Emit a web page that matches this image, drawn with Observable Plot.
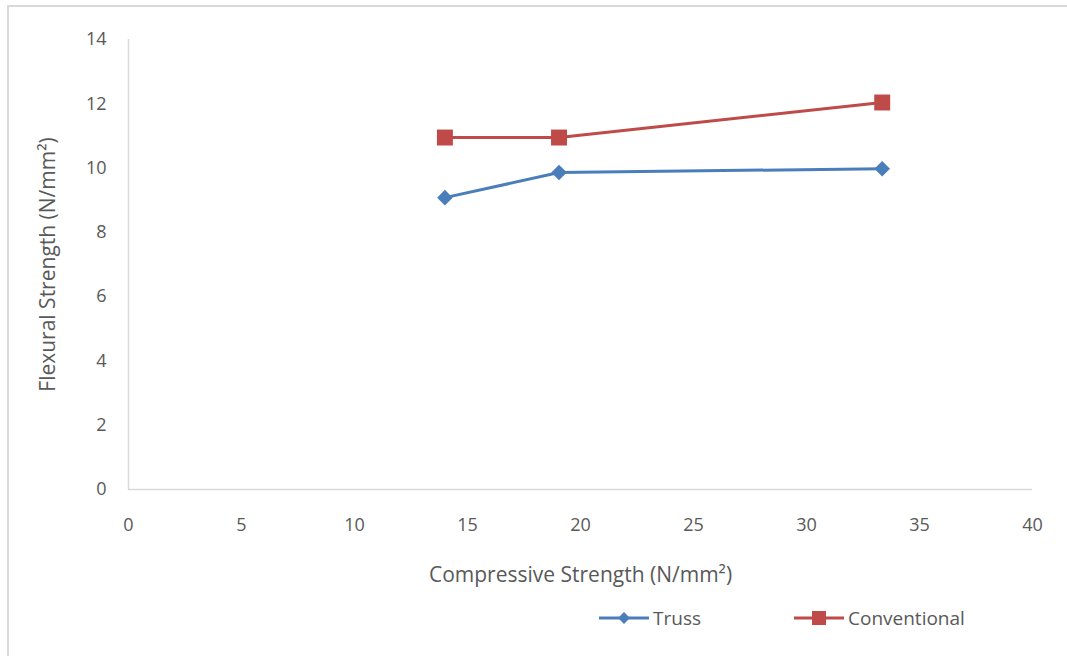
<!DOCTYPE html>
<html>
<head>
<meta charset="utf-8">
<script src="https://cdn.jsdelivr.net/npm/d3@7"></script>
<script src="https://cdn.jsdelivr.net/npm/@observablehq/plot@0.6"></script>
<style>
  html, body { margin: 0; padding: 0; background: #fff; }
  #wrap { position: relative; width: 1067px; height: 656px; overflow: hidden; }
  #frame { position: absolute; left: 7px; top: 5px; right: -5px; bottom: -5px; border-left: 2px solid #d9d9d9; border-top: 2px solid #d9d9d9; pointer-events: none; }
  #legend { position: absolute; top: 605px; left: 598px; font-family: "Open Sans", sans-serif; font-size: 19px; color: #595959; display: flex; align-items: center; }
  .item { display: flex; align-items: center; }
  .item svg { margin-right: 3px; }
</style>
</head>
<body>
<div id="wrap">
  <div id="chart"></div>
  <div id="frame"></div>
  <div id="legend"></div>
</div>
<script>
const compressive = [14.0, 19.05, 33.35];
const trussFlexural = [9.08, 9.86, 9.98];
const conventionalFlexural = [10.95, 10.95, 12.04];
const seriesNames = ["Truss", "Conventional"];
const seriesColors = ["#4a7ebb", "#be4b48"];
const xTicks = [0, 5, 10, 15, 20, 25, 30, 35, 40];
const yTicks = [0, 2, 4, 6, 8, 10, 12, 14];

const truss = compressive.map((x, i) => ({series: seriesNames[0], x, y: trussFlexural[i]}));
const conventional = compressive.map((x, i) => ({series: seriesNames[1], x, y: conventionalFlexural[i]}));

const font = "'Open Sans', sans-serif";
const chart = Plot.plot({
  width: 1067,
  height: 656,
  marginLeft: 128,
  marginRight: 35,
  marginTop: 39,
  marginBottom: 167,
  style: {fontFamily: font, fontSize: "18px", color: "#595959", background: "white", overflow: "visible"},
  x: {domain: [0, 40], ticks: xTicks},
  y: {domain: [0, 14], ticks: yTicks},
  marks: [
    Plot.ruleY([0], {stroke: "#d9d9d9", strokeWidth: 1.5, strokeOpacity: 1}),
    Plot.ruleX([0], {stroke: "#d9d9d9", strokeWidth: 1.5, strokeOpacity: 1}),
    Plot.axisX({ticks: xTicks, tickSize: 0, tickPadding: 29, fontSize: 18, fill: "#595959",
      label: "Compressive Strength (N/mm²)", labelAnchor: "center", labelArrow: "none", labelOffset: 92}),
    Plot.axisY({ticks: yTicks, tickSize: 0, tickPadding: 22, fontSize: 18, fill: "#595959",
      label: "Flexural Strength (N/mm²)", labelAnchor: "center", labelArrow: "none", labelOffset: 88}),
    Plot.line(truss, {x: "x", y: "y", stroke: seriesColors[0], strokeWidth: 3}),
    Plot.line(conventional, {x: "x", y: "y", stroke: seriesColors[1], strokeWidth: 3}),
    Plot.dot(truss, {x: "x", y: "y", fill: seriesColors[0], symbol: "diamond2", r: 7, stroke: "none"}),
    Plot.dot(conventional, {x: "x", y: "y", fill: seriesColors[1], symbol: "square", r: 9, stroke: "none"})
  ]
});
document.getElementById("chart").appendChild(chart);
d3.select(chart).selectAll("[aria-label='x-axis label'] text, [aria-label='y-axis label'] text")
  .style("font-size", "21px").attr("fill", "#595959");

// HTML legend
const legend = d3.select("#legend");
seriesNames.forEach((name, i) => {
  const it = legend.append("div").attr("class", "item").style("margin-right", i === 0 ? "92px" : "0");
  const s = it.append("svg").attr("width", 52).attr("height", 20);
  s.append("line").attr("x1", 1).attr("x2", 51).attr("y1", 10).attr("y2", 10)
    .attr("stroke", seriesColors[i]).attr("stroke-width", 3);
  s.append("path").attr("transform", "translate(26,10)")
    .attr("d", d3.symbol(i === 0 ? d3.symbolDiamond2 : d3.symbolSquare, i === 0 ? 90 : 196)())
    .attr("fill", seriesColors[i]);
  it.append("span").text(name);
});
</script>
</body>
</html>
